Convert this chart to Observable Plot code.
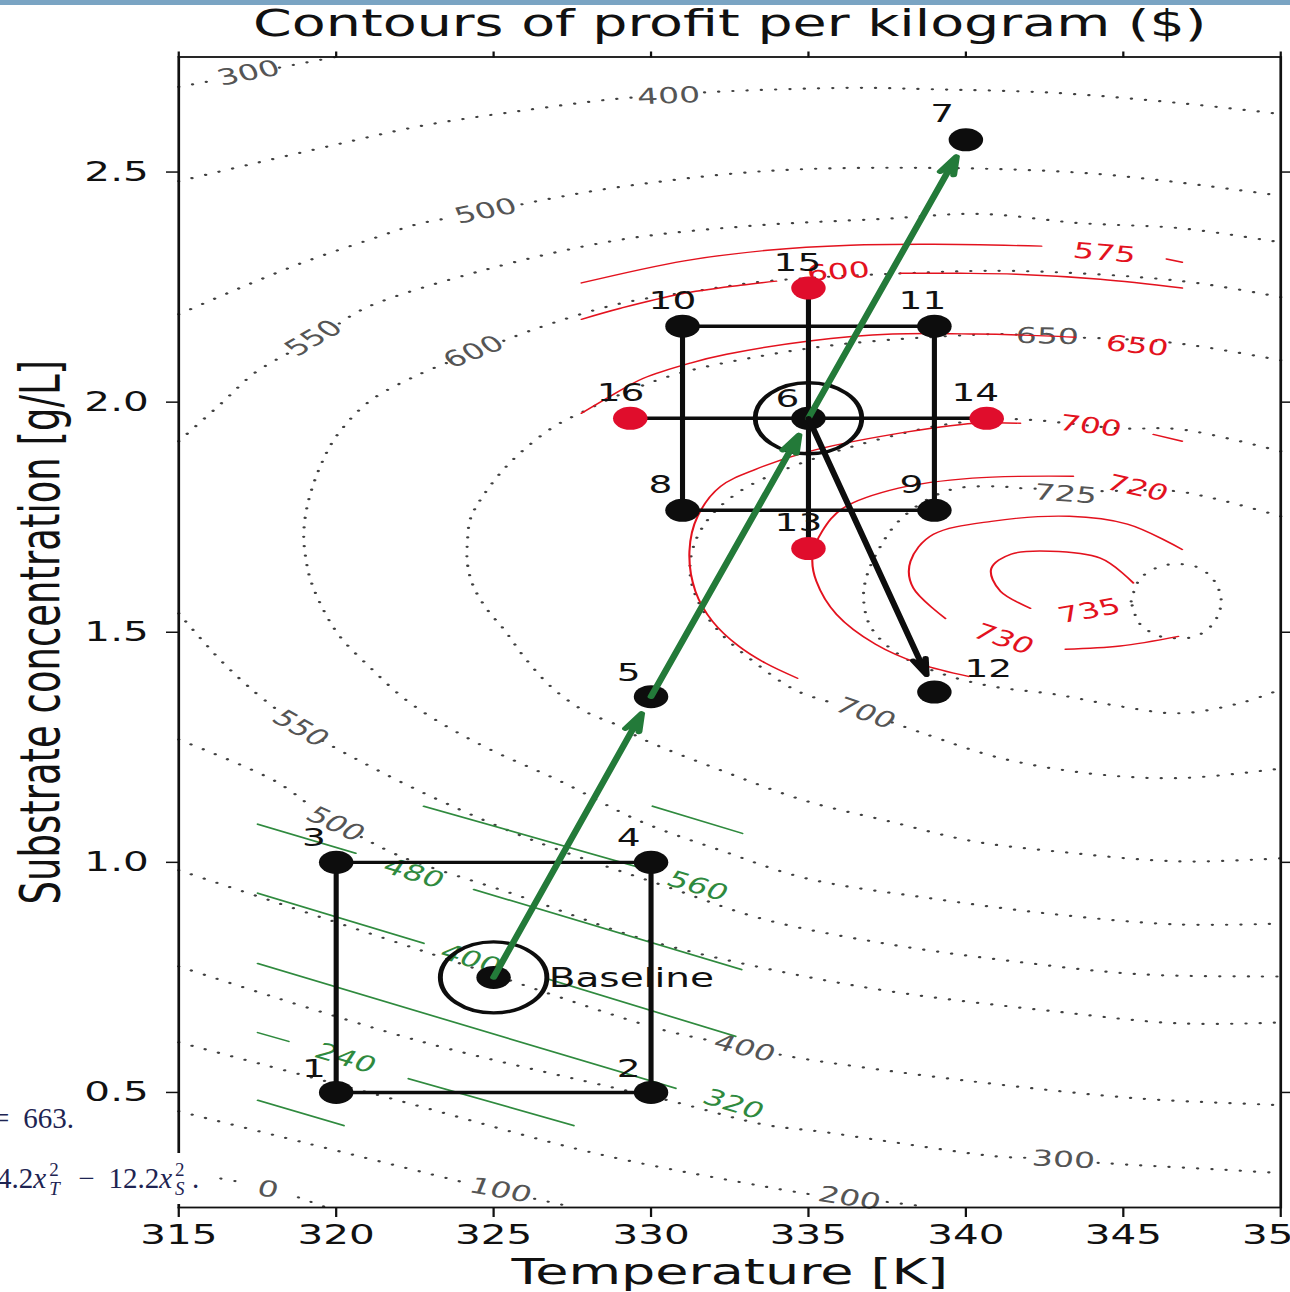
<!DOCTYPE html>
<html>
<head>
<meta charset="utf-8">
<script src="https://cdn.jsdelivr.net/npm/d3@7"></script>
<script src="https://cdn.jsdelivr.net/npm/@observablehq/plot@0.6"></script>
<style>
  html, body { margin: 0; padding: 0; background: #fff; width: 1290px; height: 1292px; overflow: hidden; }
  #chart { position: absolute; left: 0; top: 0; }
  .topbar { position: absolute; left: 0; top: 0; width: 1290px; height: 5px; background: #7aa4c3; }
  .eq { position: absolute; font-family: "Liberation Serif", "DejaVu Serif", serif; font-size: 29px; color: #1e2452; white-space: nowrap; }
  #eq1 { left: -7px; top: 1104px; line-height: 29px; }
  #eq2 { left: 0; top: 1153px; width: 216px; height: 51px; line-height: 51px; overflow: hidden; background: #fff; }
  #eq2 .inner { display: inline-block; margin-left: -3px; }
  #eq2 i.v { margin-right: 1px; }
  .op { margin: 0 14px 0 12px; }
  .ss { display: inline-block; position: relative; width: 19px; height: 1px; }
  .ss .sup, .ss .sub { position: absolute; left: 2px; font-size: 19px; line-height: 19px; }
  .ss .sup { top: -27px; }
  .ss .sub { top: -8px; }
</style>
</head>
<body>
<div id="chart"></div>
<div class="topbar"></div>
<div class="eq" id="eq1"><span style="margin-right:14px">=</span>663.</div>
<div class="eq" id="eq2"><span class="inner">4.2<i class="v">x</i><span class="ss"><span class="sup">2</span><span class="sub"><i>T</i></span></span><span class="op">−</span>12.2<i class="v">x</i><span class="ss"><span class="sup">2</span><span class="sub"><i>S</i></span></span>.</span></div>
<script>
// ---- axis ticks ----
const xTicks = [315, 320, 325, 330, 335, 340, 345, 350];
const yTicks = [0.5, 1.0, 1.5, 2.0, 2.5];

// ---- experimental runs: temperature [K], substrate concentration [g/L] ----
const runId = ["1", "2", "3", "4", "5", "6", "7", "8", "9", "10", "11", "12", "13", "14", "15", "16"];
const runT  = [320, 330, 320, 330, 330, 335, 340, 331, 339, 331, 339, 339, 335, 340.66, 335, 329.34];
const runS  = [0.5, 0.5, 1.0, 1.0, 1.36, 1.965, 2.57, 1.765, 1.765, 2.165, 2.165, 1.37, 1.682, 1.965, 2.248, 1.965];
const axialRuns = ["13", "14", "15", "16"];
const baselineT = 325, baselineS = 0.75;

// where each run number is written
const runLabelT = [319.29, 329.29, 319.29, 329.29, 329.29, 334.33, 339.25, 330.3, 338.27, 330.68, 338.62, 340.71, 334.68, 340.3, 334.65, 329.03];
const runLabelS = [0.55, 0.55, 1.054, 1.054, 1.411, 2.007, 2.626, 1.82, 1.82, 2.22, 2.22, 1.42, 1.737, 2.02, 2.302, 2.02];

// design outlines and moves between runs
const firstFactorial = ["1", "2", "4", "3", "1"];
const secondFactorial = ["8", "9", "11", "10", "8"];
const axialCross = [["16", "14"], ["15", "13"]];
const centrePoints = ["Baseline", "6"];
const ascentSteps = [["Baseline", "5"], ["5", "6"], ["6", "7"]];
const finalStep = [["6", "12"]];

// ---- true profit surface, contour paths (T, S) ----
const gray0 = [
  [[315, 0.324], [316.33, 0.313], [316.9, 0.306]],
  [[318.8, 0.272], [319.7, 0.25]]
];
const gray100 = [
  [[315, 0.459], [318.87, 0.393], [322.68, 0.328], [324.2, 0.302]],
  [[326.3, 0.269], [327.44, 0.252]]
];
const gray200 = [
  [[315, 0.609], [321.73, 0.487], [328.40, 0.365], [333.98, 0.291], [335.2, 0.277]],
  [[337.5, 0.262], [338.75, 0.252]]
];
const gray300 = [
  [[315, 2.685], [316.2, 2.70]],
  [[318.2, 2.727], [319.98, 2.75]],
  [[315, 0.774], [322.68, 0.611], [330.71, 0.48], [333.60, 0.43], [335.38, 0.415], [337.57, 0.393], [340.97, 0.361], [342.0, 0.358]],
  [[344.2, 0.347], [345.19, 0.343], [349.67, 0.326], [350, 0.324]]
];
const gray400 = [
  [[315, 2.48], [317.29, 2.517], [319.83, 2.557], [322.68, 2.60], [325.86, 2.633], [328.59, 2.657], [329.4, 2.662]],
  [[331.7, 2.673], [332.56, 2.676], [336.33, 2.683], [338.87, 2.68], [342.84, 2.672], [346.78, 2.65], [349.76, 2.628], [350, 2.626]],
  [[315, 0.983], [322.68, 0.809], [330.21, 0.639], [331.8, 0.614]],
  [[334.1, 0.582], [334.94, 0.572], [340.21, 0.524], [345.48, 0.487], [349.41, 0.474], [350, 0.472]]
];
const gray500 = [
  [[315, 2.191], [316.87, 2.246], [318.97, 2.304], [321.10, 2.354], [322.59, 2.387], [323.6, 2.40]],
  [[325.9, 2.43], [326.71, 2.441], [328.94, 2.467], [333.60, 2.502], [338.87, 2.509], [344.14, 2.496], [349.41, 2.454], [350, 2.448]],
  [[315, 1.267], [318.08, 1.176], [319.2, 1.121]],
  [[320.8, 1.055], [322.05, 1.013], [325.86, 0.926], [329.67, 0.835], [333.60, 0.770], [337.57, 0.72], [342.84, 0.676], [346.78, 0.65], [350, 0.652]]
];
const gray550 = [
  [[315, 1.915], [316.33, 1.996], [317.44, 2.065], [318.5, 2.107]],
  [[320.1, 2.171], [321.0, 2.207], [324.59, 2.285], [328.94, 2.352], [333.16, 2.383], [337.29, 2.398], [340.46, 2.409], [343.63, 2.389], [346.81, 2.378], [349.76, 2.35], [350, 2.348]],
  [[315, 1.541], [316.33, 1.439], [317.38, 1.372], [318.17, 1.329]],
  [[319.57, 1.264], [320.40, 1.233], [322.68, 1.154], [326.17, 1.05], [330.46, 0.948], [333.60, 0.876], [337.57, 0.822], [341.51, 0.785], [345.48, 0.757], [349.41, 0.752], [350, 0.752]]
];
const gray600 = [
  [[350, 2.228], [346.87, 2.263], [341.60, 2.285], [338.05, 2.28], [333.70, 2.263], [331.57, 2.243], [328.94, 2.213], [326.40, 2.161], [325.2, 2.13]],
  [[323.5, 2.085], [322.59, 2.059], [321.10, 2.004], [320.05, 1.93], [319.51, 1.863], [319.10, 1.78], [318.97, 1.713], [319.03, 1.663], [319.19, 1.613], [319.60, 1.548], [320.14, 1.489], [321.10, 1.422], [322.14, 1.357], [323.22, 1.307], [324.81, 1.248], [327.13, 1.176], [329.67, 1.089], [332.30, 1.024], [334.94, 0.965], [338.87, 0.922], [342.84, 0.887], [346.78, 0.865], [350, 0.867]]
];
const gray650 = [
  [[350, 2.091], [346.71, 2.128], [344.27, 2.139], [343.6, 2.14]],
  [[341.6, 2.147], [340.94, 2.148], [336.33, 2.128], [333.48, 2.10], [330.81, 2.061], [329.03, 2.017], [327.86, 1.98], [326.90, 1.946], [325.95, 1.896], [325.32, 1.854], [324.68, 1.798], [324.27, 1.748], [324.17, 1.698], [324.17, 1.648], [324.37, 1.598], [324.81, 1.548], [325.32, 1.507], [325.95, 1.448], [326.71, 1.389], [327.44, 1.348], [328.08, 1.322], [328.94, 1.298], [329.67, 1.27], [332.30, 1.198], [334.94, 1.133], [337.57, 1.089], [340.21, 1.046], [342.84, 1.024], [346.78, 1.002], [350, 1.009]]
];
const gray700 = [
  [[350, 1.893], [346.81, 1.941], [344.90, 1.943], [341.51, 1.963], [339.41, 1.952], [337.29, 1.92], [335.70, 1.889], [334.11, 1.85], [332.84, 1.807], [331.89, 1.752], [331.35, 1.687], [331.25, 1.622], [331.57, 1.557], [332.21, 1.498], [333.32, 1.433], [334.65, 1.372], [335.96, 1.343]],
  [[337.66, 1.304], [338.75, 1.278], [341.13, 1.226], [343.95, 1.193], [346.78, 1.183], [350, 1.204]]
];
const gray725 = [
  [[350, 1.752], [347.86, 1.791], [346.59, 1.807], [344.59, 1.807], [344.1, 1.806]],
  [[342.2, 1.812], [341.73, 1.813], [341.0, 1.817], [339.73, 1.813], [338.84, 1.791], [337.86, 1.741], [337.29, 1.687], [336.87, 1.626], [336.75, 1.574], [337.0, 1.509], [337.86, 1.452], [339.19, 1.411], [340.78, 1.383], [342.84, 1.365], [344.90, 1.339], [346.78, 1.324], [348.71, 1.346], [350, 1.376]]
];
const gray735 = [
  [[345.25, 1.567], [345.54, 1.617], [346.17, 1.643], [346.68, 1.648], [347.29, 1.643], [347.83, 1.617], [348.11, 1.567], [347.83, 1.517], [347.29, 1.491], [346.68, 1.487], [346.17, 1.491], [345.54, 1.517], [345.25, 1.567]]
];
const grayLabels = [
  {text: "0",   T: 317.83, S: 0.289, angle: 10},
  {text: "100", T: 325.22, S: 0.287, angle: 15},
  {text: "200", T: 336.30, S: 0.270, angle: 12},
  {text: "300", T: 317.22, S: 2.715, angle: -16},
  {text: "300", T: 343.10, S: 0.354, angle: 4},
  {text: "400", T: 330.56, S: 2.665, angle: -3},
  {text: "400", T: 332.97, S: 0.596, angle: 20},
  {text: "500", T: 324.75, S: 2.415, angle: -16},
  {text: "500", T: 319.98, S: 1.083, angle: 35},
  {text: "550", T: 319.29, S: 2.139, angle: -41},
  {text: "550", T: 318.87, S: 1.291, angle: 41},
  {text: "600", T: 324.37, S: 2.109, angle: -30},
  {text: "650", T: 342.59, S: 2.143, angle: 2},
  {text: "700", T: 336.81, S: 1.324, angle: 27},
  {text: "725", T: 343.16, S: 1.80,  angle: 6}
];

// ---- quadratic model fitted around run 6 ----
const red575 = [
  [[327.79, 2.259], [331.06, 2.307], [333.70, 2.33], [336.33, 2.341], [338.97, 2.343], [342.40, 2.339]],
  [[346.37, 2.311], [346.87, 2.304]]
];
const red600 = [
  [[327.79, 2.18], [329.03, 2.204], [330.94, 2.235], [332.84, 2.254], [333.98, 2.263]],
  [[337.92, 2.28], [339.83, 2.28], [341.60, 2.278], [344.27, 2.267], [346.87, 2.248]]
];
const red650 = [
  [[327.79, 1.976], [328.71, 2.013], [329.76, 2.052], [331.25, 2.085], [332.40, 2.104], [335.03, 2.133], [337.67, 2.148], [340.30, 2.148], [342.94, 2.143], [343.48, 2.141]]
];
const red700 = [
  [[334.65, 1.40], [333.63, 1.433], [332.78, 1.47], [331.95, 1.524], [331.41, 1.589], [331.22, 1.676], [331.48, 1.752], [332.21, 1.817], [333.32, 1.854], [335.03, 1.893], [337.67, 1.93], [340.30, 1.954], [341.73, 1.954]],
  [[345.95, 1.93], [346.87, 1.915]]
];
const red720 = [
  [[340.08, 1.404], [338.59, 1.43], [337.13, 1.474], [335.89, 1.539], [335.25, 1.611], [335.13, 1.665], [335.44, 1.72], [336.11, 1.77], [337.86, 1.813], [340.21, 1.835], [343.41, 1.839]]
];
const red730 = [
  [[339.35, 1.53], [338.33, 1.596], [338.24, 1.654], [338.97, 1.713], [340.81, 1.741], [343.29, 1.752], [345.13, 1.735], [346.87, 1.68]],
  [[343.16, 1.463], [344.90, 1.47], [346.75, 1.491]]
];
const red735 = [
  [[342.05, 1.552], [341.10, 1.589], [340.81, 1.639], [341.44, 1.67], [342.68, 1.676], [344.27, 1.661], [345.32, 1.607]]
];
const redLabels = [
  {text: "575", T: 344.40, S: 2.324, angle: 7},
  {text: "600", T: 335.95, S: 2.283, angle: -6},
  {text: "650", T: 345.44, S: 2.122, angle: 8},
  {text: "700", T: 343.95, S: 1.948, angle: 10},
  {text: "720", T: 345.44, S: 1.813, angle: 18},
  {text: "730", T: 341.19, S: 1.485, angle: 26},
  {text: "735", T: 343.92, S: 1.546, angle: -15}
];

// ---- linear model fitted around the baseline ----
const green160 = [[[317.51, 0.483], [320.24, 0.428]]];
const green240 = [[[317.51, 0.63], [318.49, 0.611]], [[322.30, 0.53], [327.54, 0.428]]];
const green320 = [[[317.51, 0.78], [330.78, 0.509]]];
const green400 = [[[317.51, 0.933], [322.78, 0.824]], [[326.75, 0.746], [332.68, 0.622]]];
const green480 = [[[317.51, 1.083], [320.62, 1.02]], [[324.37, 0.941], [332.87, 0.767]]];
const green560 = [[[322.78, 1.122], [329.83, 0.985]]];
const green640 = [[[330.05, 1.122], [332.90, 1.063]]];
const greenLabels = [
  {text: "240", T: 320.30, S: 0.574},
  {text: "320", T: 332.62, S: 0.474},
  {text: "400", T: 324.27, S: 0.789},
  {text: "480", T: 322.46, S: 0.976},
  {text: "560", T: 331.48, S: 0.948}
];

// ---- tables for the marks ----
function paths(level, segments) {
  return segments.flatMap((seg, k) => seg.map(([T, S]) => ({level, part: `${level}-${k}`, T, S})));
}
const grayRows = [
  paths(0, gray0), paths(100, gray100), paths(200, gray200), paths(300, gray300),
  paths(400, gray400), paths(500, gray500), paths(550, gray550), paths(600, gray600),
  paths(650, gray650), paths(700, gray700), paths(725, gray725), paths(735, gray735)
].flat();
const redRows = [
  paths(575, red575), paths(600, red600), paths(650, red650), paths(700, red700),
  paths(720, red720), paths(730, red730), paths(735, red735)
].flat();
const greenRows = [
  paths(160, green160), paths(240, green240), paths(320, green320), paths(400, green400),
  paths(480, green480), paths(560, green560), paths(640, green640)
].flat();

const runs = runId.map((id, i) => ({id, T: runT[i], S: runS[i], axial: axialRuns.includes(id)}));
const at = Object.fromEntries(runs.map((r) => [r.id, r]));
at.Baseline = {id: "Baseline", T: baselineT, S: baselineS, axial: false};
const runLabels = runId.map((id, i) => ({id, T: runLabelT[i], S: runLabelS[i]}));
const toLink = (pairs) => pairs.map(([a, b]) => ({x1: at[a].T, y1: at[a].S, x2: at[b].T, y2: at[b].S}));

const BLACK = "#0d0d0d", RED = "#e3121e", GREEN = "#2f8a3e", ARROW_GREEN = "#237a39";

// drawn narrower, then widened to the page
const W = 860, H = 1292;
const chart = Plot.plot({
  width: W,
  height: H,
  marginLeft: 118.67,
  marginRight: 6.67,
  marginTop: 56.5,
  marginBottom: 85,
  x: {domain: [315, 350]},
  y: {domain: [0.25, 2.75]},
  style: {fontFamily: "'DejaVu Sans', sans-serif", fontSize: "24px", color: "#111", background: "white"},
  marks: [
    // true surface
    Plot.line(grayRows, {x: "T", y: "S", z: "part", curve: "catmull-rom", stroke: "#404040", strokeWidth: 2.2, strokeDasharray: "0.1,9.4", strokeLinecap: "round"}),
    Plot.text(grayLabels, {x: "T", y: "S", text: "text", rotate: "angle", fill: "#555", fontSize: 22}),
    // local quadratic model
    Plot.line(redRows, {x: "T", y: "S", z: "part", curve: "catmull-rom", stroke: RED, strokeWidth: 1.4}),
    Plot.text(redLabels, {x: "T", y: "S", text: "text", rotate: "angle", fill: RED, fontSize: 22}),
    // local linear model
    Plot.line(greenRows, {x: "T", y: "S", z: "part", stroke: GREEN, strokeWidth: 1.6}),
    Plot.text(greenLabels, {x: "T", y: "S", text: "text", rotate: 24, fill: GREEN, fontSize: 22}),
    // designs
    Plot.line(firstFactorial.map((id) => at[id]), {x: "T", y: "S", stroke: BLACK, strokeWidth: 3.4}),
    Plot.line(secondFactorial.map((id) => at[id]), {x: "T", y: "S", stroke: BLACK, strokeWidth: 3.4}),
    Plot.link(toLink(axialCross), {x1: "x1", y1: "y1", x2: "x2", y2: "y2", stroke: BLACK, strokeWidth: 3.4}),
    Plot.dot(centrePoints.map((id) => at[id]), {x: "T", y: "S", r: 35.5, fill: "none", stroke: BLACK, strokeWidth: 3.3}),
    Plot.dot([at.Baseline, ...runs.filter((r) => !r.axial)], {x: "T", y: "S", r: 11.5, fill: BLACK}),
    Plot.dot(runs.filter((r) => r.axial), {x: "T", y: "S", r: 11.5, fill: "#e00d2c"}),
    // moves
    Plot.arrow(toLink(ascentSteps), {x1: "x1", y1: "y1", x2: "x2", y2: "y2", stroke: ARROW_GREEN, strokeWidth: 4.6, headLength: 6, headAngle: 30, insetEnd: 18, strokeLinejoin: "round"}),
    Plot.arrow(toLink(finalStep), {x1: "x1", y1: "y1", x2: "x2", y2: "y2", stroke: BLACK, strokeWidth: 4.2, headLength: 6, headAngle: 30, insetEnd: 18, strokeLinejoin: "round"}),
    // run numbers
    Plot.text(runLabels, {x: "T", y: "S", text: "id", fontSize: 25, fill: "#111"}),
    Plot.text([{T: 326.75, S: 0.748, text: "Baseline"}], {x: "T", y: "S", text: "text", textAnchor: "start", fontSize: 26, fill: "#111"}),
    // frame and axes
    Plot.frame({stroke: "#111", strokeWidth: 1.8}),
    Plot.axisX({anchor: "bottom", ticks: xTicks, tickSize: 10, tickPadding: 7, fontSize: 27, tickFormat: (d) => `${d}`, label: null, strokeWidth: 1.5}),
    Plot.axisX({anchor: "top", ticks: xTicks, tickSize: 6, tickFormat: () => "", label: null, strokeWidth: 1.5}),
    Plot.axisY({anchor: "left", ticks: yTicks, tickSize: 8, tickPadding: 12, fontSize: 27, tickFormat: (d) => d.toFixed(1), label: null, strokeWidth: 1.5}),
    Plot.axisY({anchor: "right", ticks: yTicks, tickSize: 6, tickFormat: () => "", label: null, strokeWidth: 1.5}),
    Plot.text(["Temperature [K]"], {frameAnchor: "bottom", lineAnchor: "middle", textAnchor: "middle", dy: 64.5, fontSize: 36, fill: "#111"}),
    Plot.text(["Substrate concentration [g/L]"], {frameAnchor: "left", lineAnchor: "middle", textAnchor: "middle", rotate: -90, dx: -92, fontSize: 37, fill: "#111"}),
    Plot.text(["Contours of profit per kilogram ($)"], {frameAnchor: "top", lineAnchor: "middle", textAnchor: "middle", dy: -33, fontSize: 37, fill: "#111"})
  ]
});

chart.setAttribute("viewBox", `0 0 ${W} ${H}`);
chart.setAttribute("width", 1290);
chart.setAttribute("height", 1292);
chart.setAttribute("preserveAspectRatio", "none");
chart.style.width = "1290px";
chart.style.height = "1292px";
chart.style.maxWidth = "none";
document.getElementById("chart").append(chart);
</script>
</body>
</html>
